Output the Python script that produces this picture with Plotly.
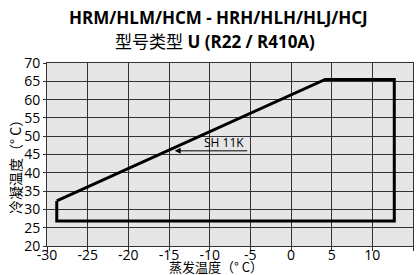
import plotly.graph_objects as go

# Envelope polygon (evaporating temp, condensing temp)
env_x = [-28.8, 4.2, 12.7, 12.7, -28.8, -28.8]
env_y = [32.3, 65.5, 65.5, 26.8, 26.8, 32.3]

x_ticks = [-30, -25, -20, -15, -10, -5, 0, 5, 10, 15]
x_ticktext = ["-30", "-25", "-20", "-15", "-10", "-5", "0", "5", "10", "15"]
y_ticks = [20, 25, 30, 35, 40, 45, 50, 55, 60, 65, 70]

sh_label = "SH 11K"
sh_arrow_start = (-5.2, 46.0)
sh_arrow_end = (-14.3, 46.0)
sh_text_pos = (-8.2, 48.2)

title1 = "<b>HRM/HLM/HCM - HRH/HLH/HLJ/HCJ</b>"
title2 = "型号类型 <b>U (R22 / R410A)</b>"
x_title = "蒸发温度（° C）"
y_title = "冷凝温度（° C）"

L, R, T, B = 47, 3, 63, 29
W, H = 416, 275
pw, ph = W - L - R, H - T - B

def px_x(p):
    return (p - L) / pw

def px_y(p):
    return (H - B - p) / ph

fig = go.Figure()
fig.add_trace(go.Scatter(x=env_x, y=env_y, mode="lines",
                         line=dict(color="black", width=3), hoverinfo="skip",
                         showlegend=False))

fig.add_annotation(x=sh_arrow_end[0], y=sh_arrow_end[1], ax=sh_arrow_start[0], ay=sh_arrow_start[1],
                   xref="x", yref="y", axref="x", ayref="y", text="", showarrow=True,
                   arrowhead=2, arrowsize=1.2, arrowwidth=1, arrowcolor="black")
fig.add_annotation(x=sh_text_pos[0], y=sh_text_pos[1], xref="x", yref="y", text=sh_label,
                   showarrow=False, font=dict(family="Open Sans", size=12, color="black"))

fig.add_annotation(text=title1, xref="paper", yref="paper", x=px_x(218), y=px_y(18),
                   yanchor="middle", showarrow=False, font=dict(family="Open Sans", size=17))
fig.add_annotation(text=title2, xref="paper", yref="paper", x=px_x(215), y=px_y(41),
                   yanchor="middle", showarrow=False, font=dict(family="Open Sans, Noto Sans CJK SC", size=17))
fig.add_annotation(text=x_title, xref="paper", yref="paper", x=px_x(216), y=px_y(266),
                   yanchor="middle", showarrow=False, borderpad=0,
                   font=dict(family="Noto Sans CJK SC", size=13))
fig.add_annotation(text=y_title, xref="paper", yref="paper", x=px_x(15), y=px_y(164),
                   xanchor="center", yanchor="middle", textangle=-90, showarrow=False,
                   font=dict(family="Noto Sans CJK SC", size=14))

fig.update_layout(
    width=W, height=H,
    margin=dict(l=L, r=R, t=T, b=B, autoexpand=False),
    paper_bgcolor="white", plot_bgcolor="#e6e6e6",
    font=dict(family="Open Sans", size=14, color="black"),
    xaxis=dict(range=[-30, 15], tickvals=x_ticks, ticktext=x_ticktext, showgrid=True,
               gridcolor="#333333", gridwidth=1, automargin=False,
               zeroline=False, showline=True, linecolor="#333333", linewidth=1, mirror=True,
               ticks="outside", ticklen=4, tickcolor="#333333", ticklabelstandoff=-8),
    yaxis=dict(range=[20, 70], tickvals=y_ticks, showgrid=True, gridcolor="#333333", gridwidth=1,
               zeroline=False, showline=True, linecolor="#333333", linewidth=1, mirror=True,
               automargin=False, ticks="outside", ticklen=3, tickcolor="#333333"),
)
fig.write_html("out.html", config={"displayModeBar": False},
               post_script="document.body.style.margin='0';document.body.style.overflow='hidden';")
